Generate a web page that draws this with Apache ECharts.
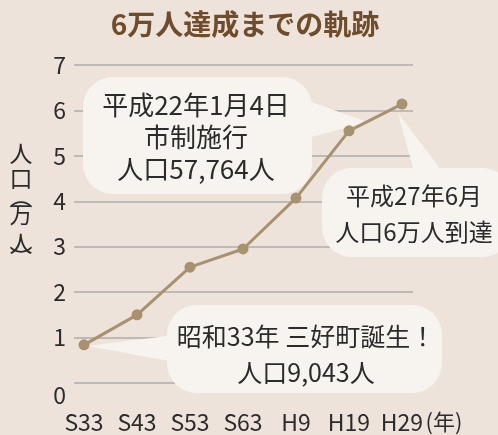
<!DOCTYPE html>
<html>
<head>
<meta charset="utf-8">
<script src="https://cdn.jsdelivr.net/npm/echarts@6/dist/echarts.min.js"></script>
<style>
  html, body { margin: 0; background: #eee3da; }
  #main { width: 498px; height: 435px; }
</style>
</head>
<body>
<div id="main"></div>
<script>
// 人口の推移（万人）
const years = ['S33', 'S43', 'S53', 'S63', 'H9', 'H19', 'H29'];
const population = [0.84, 1.50, 2.55, 2.95, 4.07, 5.55, 6.14];
const yTicks = [0, 1, 2, 3, 4, 5, 6, 7];

const FONT = '"Noto Sans CJK JP", "Noto Sans", sans-serif';
const BUBBLE = '#f7f4ef';
const INK = '#2b2b2b';

// 吹き出し
function bubble(box, tail, text, cx, cy, size, lh) {
  return {
    type: 'group',
    children: [
      { type: 'polygon', z: 5, shape: { points: tail }, style: { fill: BUBBLE } },
      { type: 'rect', z: 5, shape: { x: box[0], y: box[1], width: box[2], height: box[3], r: 30 }, style: { fill: BUBBLE } },
      { type: 'text', z: 6, style: {
          text: text, x: cx, y: cy, textAlign: 'center', textVerticalAlign: 'middle',
          font: size + 'px ' + FONT, fill: INK, lineHeight: lh
      } }
    ]
  };
}

// 縦書きの軸名
const yName = [['人', 153], ['口', 178], ['︵', 196], ['万', 214], ['人', 243], ['︶', 257]].map(function (c) {
  return { type: 'text', style: { text: c[0], x: 21, y: c[1], textAlign: 'center', textVerticalAlign: 'middle', font: '23px ' + FONT, fill: INK } };
});

const chart = echarts.init(document.getElementById('main'));
chart.setOption({
  backgroundColor: '#eee3da',
  animation: false,
  grid: [
    { left: 74, right: 85, top: 65, bottom: 52 },
    { left: 84, right: 96, top: 65, bottom: 52 }
  ],
  xAxis: [
    { gridIndex: 0, type: 'value', show: false },
    {
      gridIndex: 1, type: 'category', boundaryGap: false, data: years,
      axisLine: { show: false }, axisTick: { show: false },
      axisLabel: { interval: 0, hideOverlap: false, margin: 28, fontSize: 23, color: INK, fontFamily: FONT }
    }
  ],
  yAxis: [
    {
      gridIndex: 0, type: 'value', min: yTicks[0], max: yTicks[yTicks.length - 1], interval: 1,
      axisLine: { show: false }, axisTick: { show: false },
      splitLine: { lineStyle: { color: '#bdbbb8', width: 2 } },
      axisLabel: {
        margin: 8, fontSize: 23, color: INK, fontFamily: FONT,
        formatter: function (v) { return v === 0 ? '{z|0}' : String(v); },
        rich: { z: { fontSize: 23, color: INK, fontFamily: FONT, padding: [24, 0, 0, 0] } }
      }
    },
    { gridIndex: 1, type: 'value', min: yTicks[0], max: yTicks[yTicks.length - 1], show: false }
  ],
  series: [{
    type: 'line',
    xAxisIndex: 1, yAxisIndex: 1,
    data: population,
    z: 10,
    symbol: 'circle', symbolSize: 11,
    itemStyle: { color: '#a8916f' },
    lineStyle: { color: '#a8916f', width: 3 }
  }],
  graphic: [
    { type: 'text', style: { text: '6万人達成までの軌跡', x: 245, y: 24, textAlign: 'center', textVerticalAlign: 'middle', font: 'bold 28px ' + FONT, fill: '#6f4c2b' } },
    { type: 'text', style: { text: '(年)', x: 444, y: 422, textAlign: 'center', textVerticalAlign: 'middle', font: '22px ' + FONT, fill: INK } },
    bubble([83, 77, 229, 117], [[300, 98], [367, 122], [300, 140]], '平成22年1月4日\n市制施行\n人口57,764人', 196, 137, 26, 32),
    bubble([322, 168, 190, 89], [[415, 175], [398, 113], [445, 175]], '平成27年6月\n人口6万人到達', 414, 214, 24, 36),
    bubble([167, 305, 275, 88], [[175, 335], [88, 346], [175, 362]], '昭和33年 三好町誕生！\n人口9,043人', 306, 354, 25, 36)
  ].concat(yName)
});
</script>
</body>
</html>
